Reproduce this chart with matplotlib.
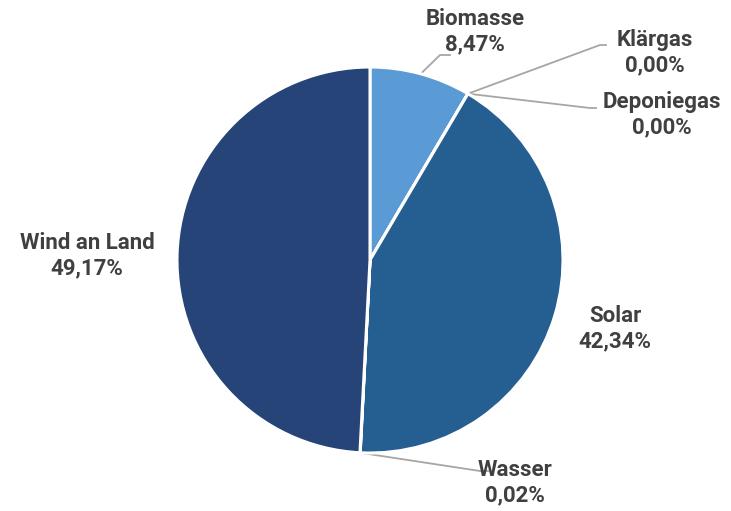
import numpy as np
import matplotlib.pyplot as plt

labels = ["Biomasse", "Klärgas", "Deponiegas", "Solar", "Wasser", "Wind an Land"]
values = [8.47, 0.0, 0.0, 42.34, 0.02, 49.17]
colors = ["#5B9BD5", "#A5A5A5", "#4472C4", "#255E91", "#9E480E", "#264478"]

# label centres (pixels from top-left) and leader line elbows
label_pos = {
    "Biomasse": (475, 32),
    "Klärgas": (655, 53),
    "Deponiegas": (662, 115),
    "Solar": (615, 329),
    "Wasser": (515, 483),
    "Wind an Land": (87, 256),
}
elbows = {
    "Biomasse": [(440, 55), (450, 55)],
    "Klärgas": [(600, 45), (606, 45)],
    "Deponiegas": [(590, 108), (596, 108)],
    "Wasser": [(480, 471), (488, 471)],
}

W, H = 731, 511
fig = plt.figure(figsize=(W / 100, H / 100), dpi=100)
ax = fig.add_axes([0, 0, 1, 1])

cx, cy, r = 370, H - 260, 193
wedges, _ = ax.pie(values, colors=colors, startangle=90, counterclock=False,
                   center=(cx, cy), radius=r, frame=True,
                   wedgeprops=dict(edgecolor="white", linewidth=2.2))
ax.set_xlim(0, W)
ax.set_ylim(0, H)
ax.set_aspect("equal")
ax.axis("off")

total = sum(values)
start = 90
for lab, v in zip(labels, values):
    ang = start - v / total * 360 / 2
    start -= v / total * 360
    if lab in elbows:
        x0 = cx + r * np.cos(np.radians(ang))
        y0 = cy + r * np.sin(np.radians(ang))
        xs = [x0] + [p[0] for p in elbows[lab]]
        ys = [y0] + [H - p[1] for p in elbows[lab]]
        ax.plot(xs, ys, color="#A6A6A6", lw=1.3, zorder=0)
    tx, ty = label_pos[lab]
    txt = lab + "\n" + f"{v:.2f}".replace(".", ",") + "%"
    ax.text(tx, H - ty, txt, ha="center", va="center", fontsize=16,
            fontweight="bold", family="Roboto", color="#404040",
            linespacing=1.2)

fig.savefig("out.png", dpi=100)
